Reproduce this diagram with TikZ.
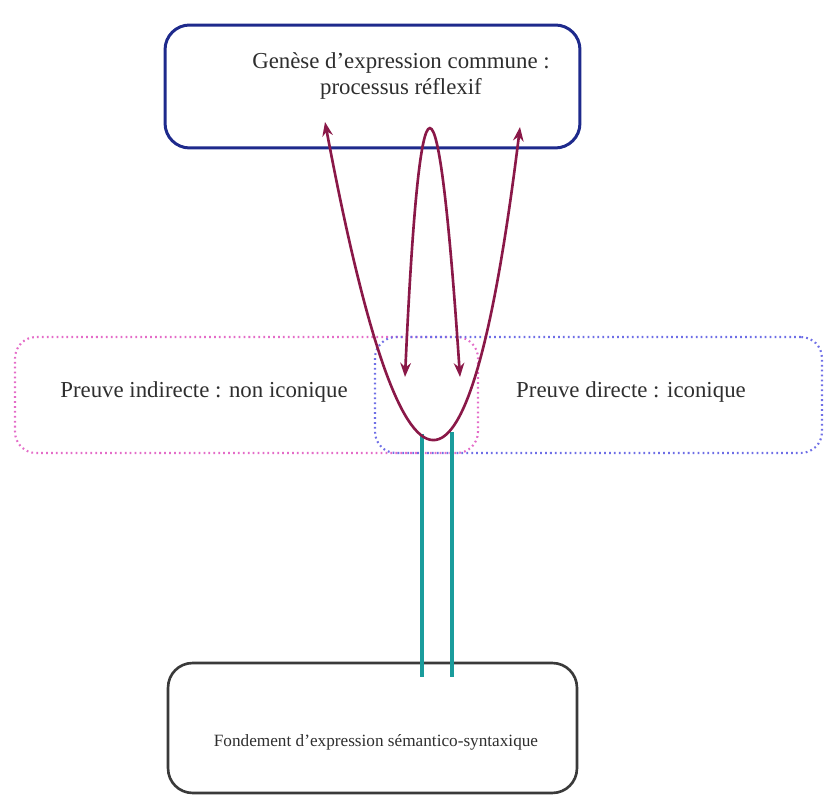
\documentclass[tikz,border=0pt]{standalone}
\usepackage{fontspec}
\setmainfont{Liberation Serif}
\usetikzlibrary{arrows.meta,positioning}
\definecolor{navy}{HTML}{1E2A8C}
\definecolor{darkgr}{HTML}{3A3A3A}
\definecolor{pinkd}{HTML}{E46CC8}
\definecolor{blued}{HTML}{6E6EE6}
\definecolor{maroon}{HTML}{8A1848}
\definecolor{tealc}{HTML}{1A9C9C}
\definecolor{txt}{HTML}{2E2E2E}

\begin{document}
\begin{tikzpicture}[
  x=0.02cm, y=-0.02cm,
  >={Stealth[length=8pt,width=6pt]},
  topbox/.style={rectangle, rounded corners=14pt, draw=navy, line width=1.7pt, minimum width=8.3cm, minimum height=2.46cm},
  basebox/.style={rectangle, rounded corners=14pt, draw=darkgr, line width=1.5pt, minimum width=8.18cm, minimum height=2.6cm},
  proof/.style={rectangle, rounded corners=12pt, line width=1.2pt, dash pattern=on 1pt off 1.8pt, minimum height=2.32cm},
  lbl/.style={font=\fontsize{13}{14.5}\selectfont, text=txt, align=center},
  loop/.style={<->, draw=maroon, line width=1.5pt},
  link/.style={draw=tealc, line width=2pt},
]
\useasboundingbox (0,0) rectangle (826,807);

% boxes
\node[topbox] (genese) at (372.5,86.5) {};
\node[basebox] (fondement) at (372.5,728) {};
\node[proof, draw=pinkd, minimum width=9.26cm] (indirecte) at (246.5,395) {};
\node[proof, draw=blued, minimum width=8.94cm] (directe) at (598.5,395) {};

% texts
\node[lbl] (genese-t) at (401,76) {Genèse d’expression commune :\\ processus réflexif};
\node[lbl] (indirecte-t) at (204,392) {Preuve indirecte : non iconique};
\node[lbl] (directe-t) at (631,392) {Preuve directe : iconique};
\node[lbl, font=\fontsize{9.8}{12}\selectfont] (fondement-t) at (376,742) {Fondement d’expression sémantico-syntaxique};

% ends of the loops
\coordinate (outL) at (325,122);
\coordinate (outR) at (520,127);
\coordinate (inL) at (405,377);
\coordinate (inR) at (460,377);
\coordinate (linkL) at (422,434);
\coordinate (linkR) at (452,432);

% links to the base
\draw[link] (linkL) -- (linkL |- fondement.north) -- ++(0,15);
\draw[link] (linkR) -- (linkR |- fondement.north) -- ++(0,15);

% reflexive loops
\draw[loop] (outL) .. controls (404,542) and (469,543) .. (outR);
\draw[loop] (inL) .. controls (420,48) and (438,48) .. (inR);

\end{tikzpicture}
\end{document}
